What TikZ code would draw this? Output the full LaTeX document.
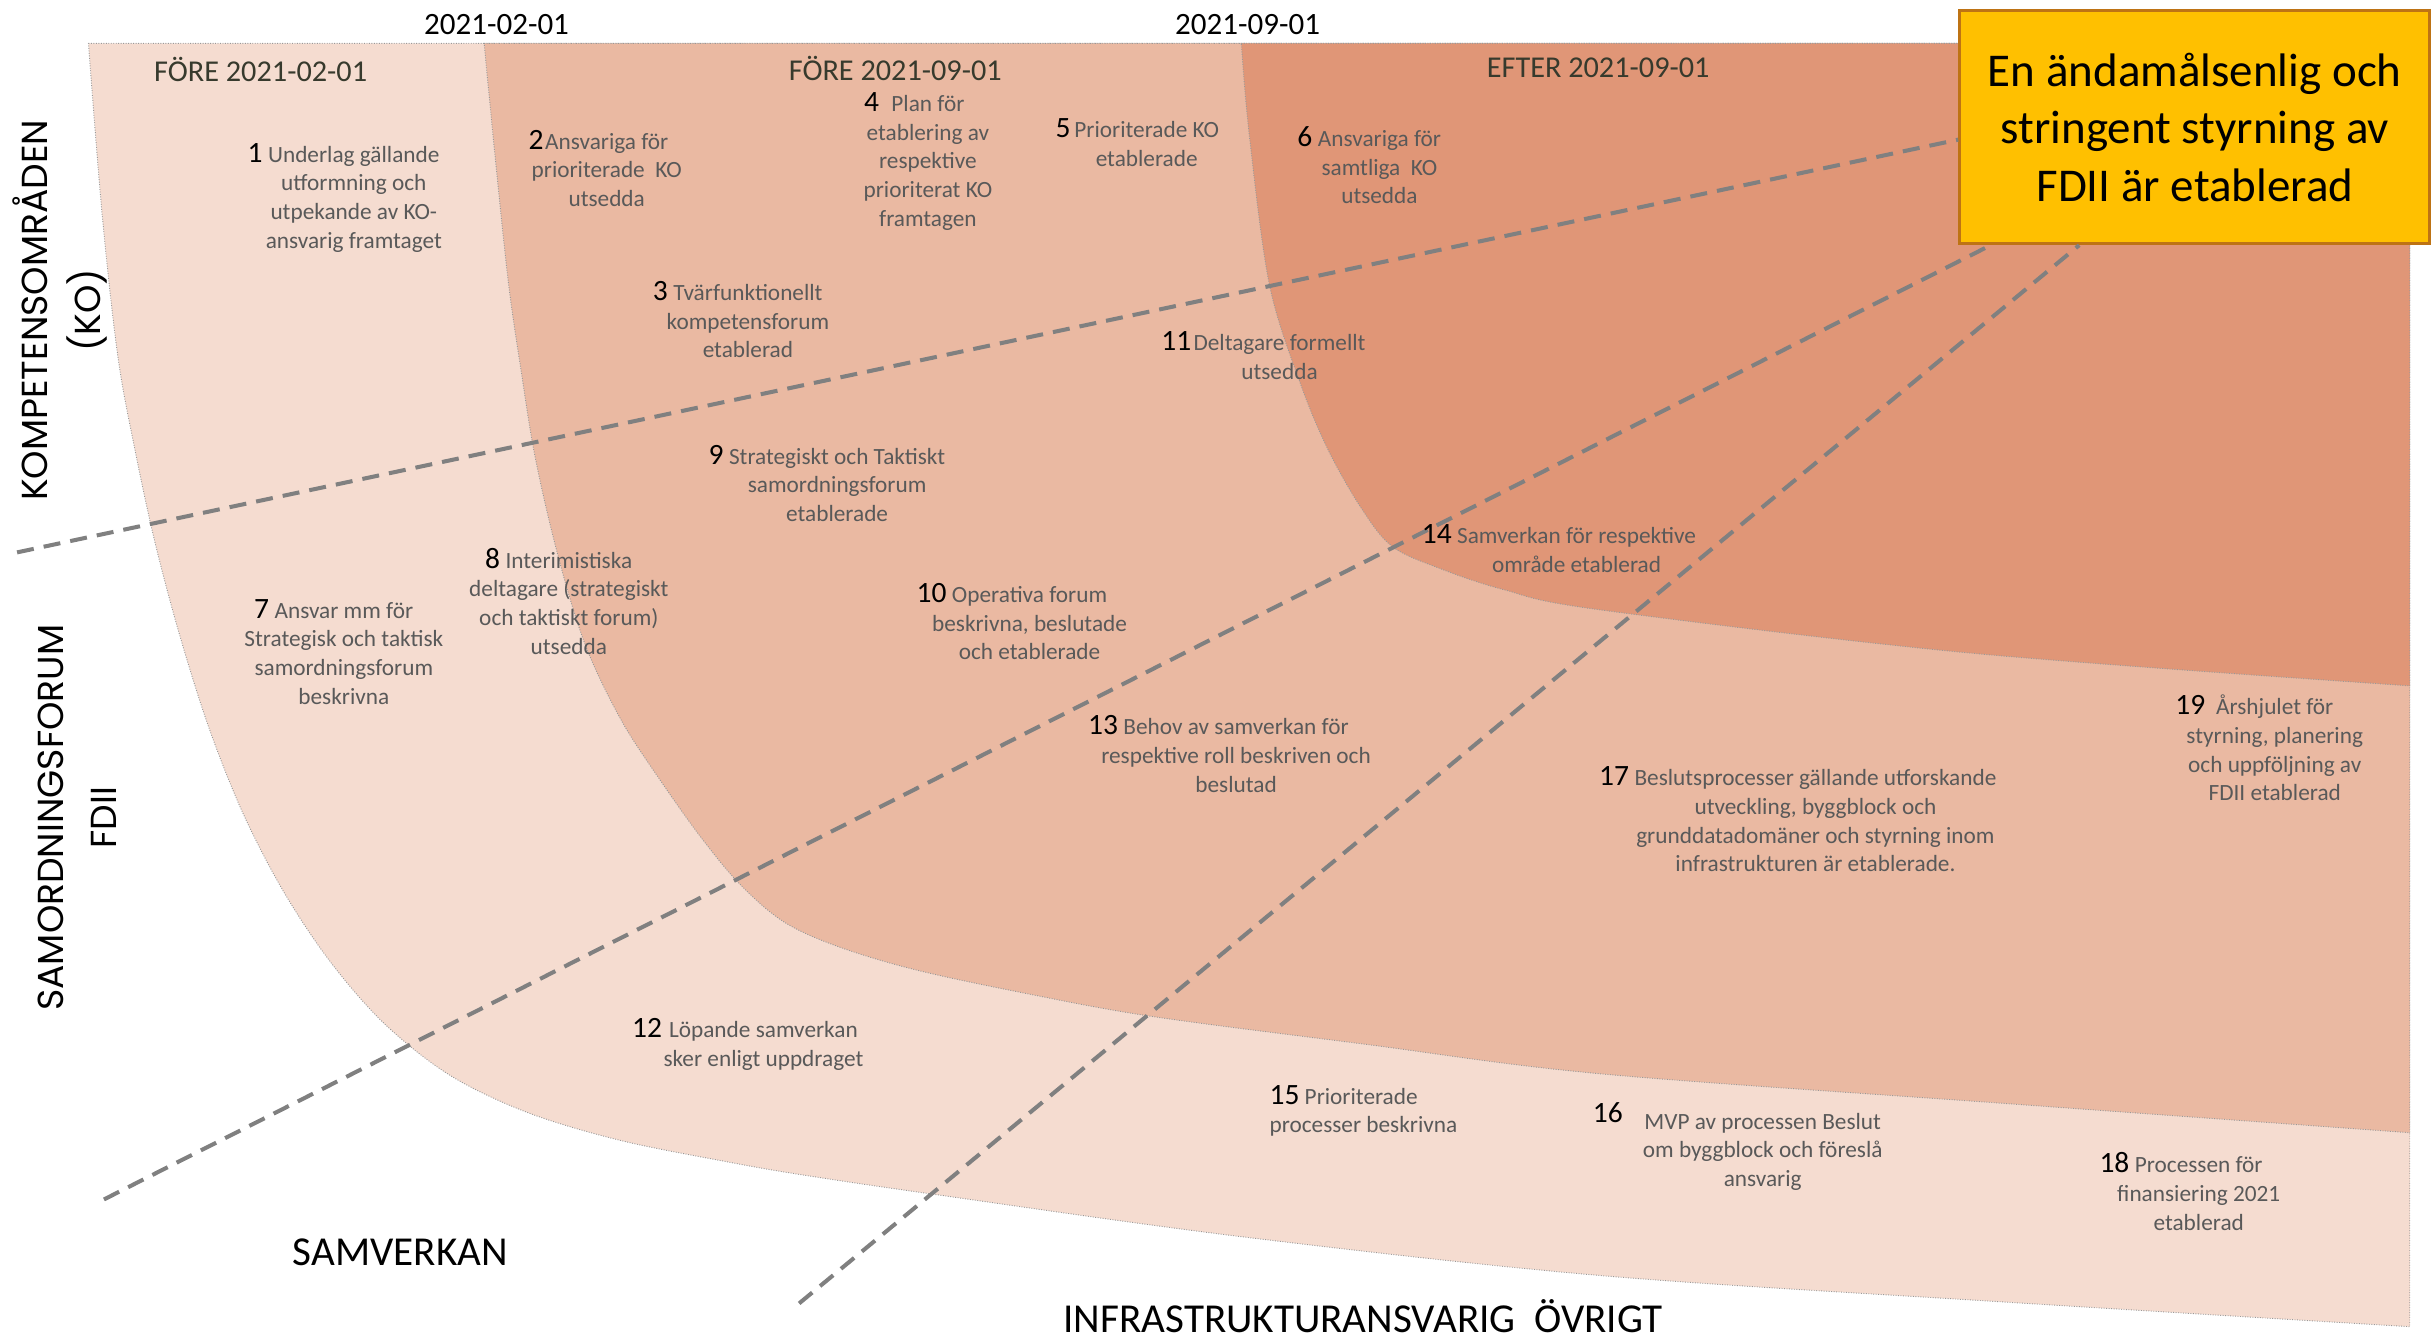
\documentclass[tikz,border=0pt]{standalone}
\usepackage{fontspec}
\setmainfont{Carlito}
\newfontfamily\axisfont{Poppins}

\newcommand{\nrtext}[1]{{\color{black}\fontsize{19}{18.5}\selectfont #1}}
\newcommand{\nr}[2][3.5pt]{\leavevmode\llap{\nrtext{#2}\hspace{#1}}}

\begin{document}
\begin{tikzpicture}[x=1pt, y=-1pt,
  zone/.style={draw=gray!80, densely dotted, line width=0.6pt},
  dashline/.style={draw=linegray, line width=2.6pt, dash pattern=on 11pt off 6.5pt},
  milestone/.style={text=textgray, align=center, inner sep=0pt, font=\fontsize{15}{18.5}\selectfont},
  phase/.style={text=phasegray, inner sep=0pt, font=\fontsize{19.5}{22}\selectfont},
  datelabel/.style={inner sep=0pt, font=\fontsize{20}{22}\selectfont},
  axislabel/.style={inner sep=0pt, align=center, rotate=90, font=\axisfont\fontsize{23.3}{34}\selectfont},
  bottomlabel/.style={inner sep=0pt, font=\fontsize{26.5}{30}\selectfont},
  goalbox/.style={draw=goalborder, fill=goalfill, line width=2pt, align=center, inner sep=0pt,
    minimum width=303pt, minimum height=150pt, font=\fontsize{30.3}{37}\selectfont}]
  \definecolor{zoneA}{RGB}{245,220,208}
  \definecolor{zoneB}{RGB}{234,185,162}
  \definecolor{zoneC}{RGB}{224,150,119}
  \definecolor{linegray}{RGB}{128,128,128}
  \definecolor{textgray}{RGB}{89,89,89}
  \definecolor{phasegray}{RGB}{55,58,45}
  \definecolor{goalfill}{RGB}{255,192,0}
  \definecolor{goalborder}{RGB}{190,115,20}
  \useasboundingbox (0,0) rectangle (1568,863.6);

  \draw[zone, fill=zoneA] (57,28) -- (1553,28) -- plot[smooth, tension=0.55] coordinates {(1553,855) (1290,839) (1031,822) (800,797) (604,770) (516,757) (470,749) (400,735) (340,717) (290,693) (248,660) (213,620) (183,575) (157,525) (135,470) (116,410) (100,350) (87,290) (76,230) (66,140) (57,28)} -- cycle;
  \draw[zone, fill=zoneB] (312,28) -- (1553,28) -- plot[smooth, tension=0.55] coordinates {(1553,730) (1290,711) (1031,692) (880,673) (742,655) (660,640) (590,625) (540,610) (505,594) (477,570) (452,540) (427,505) (402,467) (381,425) (368,388) (355,340) (344,290) (336,240) (328,185) (320,110) (312,28)} -- cycle;
  \draw[zone, fill=zoneC] (800,28) -- (1553,28) -- plot[smooth, tension=0.55] coordinates {(1553,442) (1271,421) (1031,393) (969,380) (927,366) (897,352) (877,327) (856,290) (838,247) (818,183) (805,86) (800,28)} -- cycle;

  \node[datelabel] (date1) at (320,15.5) {2021-02-01};
  \node[datelabel] (date2) at (804,15.5) {2021-09-01};
  \node[phase] (phase1) at (168,45) {FÖRE 2021-02-01};
  \node[phase] (phase2) at (577,44) {FÖRE 2021-09-01};
  \node[phase] (phase3) at (1030,44) {EFTER 2021-09-01};

  \coordinate (koend) at (11,356);
  \coordinate (samend) at (67,773);
  \coordinate (infraend) at (515,840);
  \node[goalbox] (goal) at (1414.5,82) {En ändamålsenlig och\\stringent styrning av\\FDII är etablerad};
  \draw[dashline] (koend) -- ([yshift=-8pt]goal.west);
  \draw[dashline] (samend) -- ([xshift=21pt]goal.south west);
  \draw[dashline] (infraend) -- ([xshift=78pt]goal.south west);

  \node[axislabel] (kolabel) at (38.5,200) {KOMPETENSOMRÅDEN\\(KO)};
  \node[axislabel] (sflabel) at (50,527) {SAMORDNINGSFORUM\\FDII};
  \node[bottomlabel] (samlabel) at (258,807) {SAMVERKAN};
  \node[bottomlabel] (infralabel) at (878.5,848) {INFRASTRUKTURANSVARIG\ \ ÖVRIGT};

  \node[milestone] (m1) at (228,127.5) {\nr{1}Underlag gällande\\utformning och\\utpekande av KO-\\ansvarig framtaget};
  \node[milestone] (m2) at (391,108.5) {\nr[1pt]{2}Ansvariga för\\prioriterade\ \ KO\\utsedda};
  \node[milestone] (m3) at (482,206) {\nr{3}Tvärfunktionellt\\kompetensforum\\etablerad};
  \node[milestone] (m4) at (598,104) {\nr[8pt]{4}Plan för\\etablering av\\respektive\\prioriterat KO\\framtagen};
  \node[milestone] (m5) at (739,92) {\nr[2.5pt]{5}Prioriterade KO\\etablerade};
  \node[milestone] (m6) at (889,106.5) {\nr{6}Ansvariga för\\samtliga\ \ KO\\utsedda};
  \node[milestone] (m7) at (221.6,420) {\nr{7}Ansvar mm för\\Strategisk och taktisk\\samordningsforum\\beskrivna};
  \node[milestone] (m8) at (366.6,387.5) {\nr{8}Interimistiska\\deltagare (strategiskt\\och taktiskt forum)\\utsedda};
  \node[milestone] (m9) at (539.5,311.5) {\nr{9}Strategiskt och Taktiskt\\samordningsforum\\etablerade};
  \node[milestone] (m10) at (663.5,400.6) {\nr{10}Operativa forum\\beskrivna, beslutade\\och etablerade};
  \node[milestone] (m11) at (824.6,229) {\nr[1.5pt]{11}Deltagare formellt\\utsedda};
  \node[milestone] (m12) at (492,673) {\nr[4.5pt]{12}Löpande samverkan\\sker enligt uppdraget};
  \node[milestone] (m13) at (796.6,486) {\nr{13}Behov av samverkan för\\respektive roll beskriven och\\beslutad};
  \node[milestone] (m14) at (1016,353.5) {\nr{14}Samverkan för respektive\\område etablerad};
  \node[milestone, align=left, anchor=west] (m15) at (818,716) {\nrtext{15} Prioriterade\\processer beskrivna};
  \node[milestone] (m16) at (1136,739) {\leavevmode\llap{\raisebox{4pt}{\nrtext{16}}\hspace{14pt}}MVP av processen Beslut\\om byggblock och föreslå\\ansvarig};
  \node[milestone] (m17) at (1170,528) {\nr{17}Beslutsprocesser gällande utforskande\\utveckling, byggblock och\\grunddatadomäner och styrning inom\\infrastrukturen är etablerade.};
  \node[milestone] (m18) at (1417,768) {\nr{18}Processen för\\finansiering 2021\\etablerad};
  \node[milestone] (m19) at (1466,482) {\nr[7pt]{19}Årshjulet för\\styrning, planering\\och uppföljning av\\FDII etablerad};
\end{tikzpicture}
\end{document}
